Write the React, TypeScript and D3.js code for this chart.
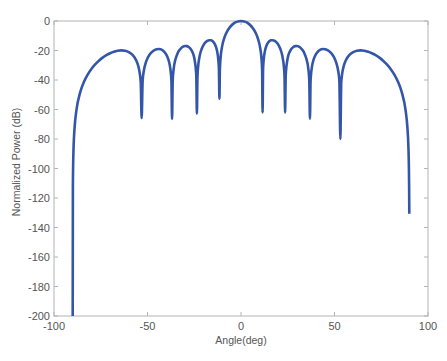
import React from "react";
import * as d3 from "d3";

// Angles (deg) and normalized power (dB)
const angleDeg: number[] = [
  -90, -89.9, -89.8, -89.5, -89, -88, -86, -84, -82, -80, -78, -76, -74, -72, -70, -68, -66, -64, -62, -60, -58, -56, -55, -54, -53.6, -53.13, -52.6, -52, -51, -50, -49, -48, -47, -46, -45, -44, -43, -42, -41, -40, -39, -38, -37.5, -37.2, -36.87, -36.5, -36, -35, -34, -33, -32, -31, -30, -29, -28, -27, -26, -25, -24, -23.9, -23.58, -23.3, -23, -22, -21, -20, -19, -18, -17, -16, -15, -14, -13, -12, -11.8, -11.54, -11.3, -11, -10, -9, -8, -7, -6, -5, -4, -3, -2, -1,
  0,
  1, 2, 3, 4, 5, 6, 7, 8, 9, 10, 11, 11.3, 11.54, 11.8, 12, 13, 14, 15, 16, 17, 18, 19, 20, 21, 22, 23, 23.3, 23.58, 23.9, 24, 25, 26, 27, 28, 29, 30, 31, 32, 33, 34, 35, 36, 36.5, 36.87, 37.2, 37.5, 38, 39, 40, 41, 42, 43, 44, 45, 46, 47, 48, 49, 50, 51, 52, 52.6, 53.13, 53.6, 54, 55, 56, 58, 60, 62, 64, 66, 68, 70, 72, 74, 76, 78, 80, 82, 84, 86, 88, 89, 89.5, 89.8, 89.9, 90,
];

const powerDb: number[] = [
  -200, -112.4, -100.4, -84.46, -72.42, -60.38, -48.36, -41.32, -36.35, -32.53, -29.46, -26.93, -24.84, -23.13, -21.84, -20.8, -20.12, -19.89, -20.17, -21.1, -23.03, -26.8, -30.21, -36.61, -41.87, -65.8, -40.63, -34.06, -28.54, -25.28, -23.04, -21.44, -20.3, -19.53, -19.1, -18.99, -19.22, -19.83, -20.92, -22.67, -25.48, -30.58, -35.5, -41.04, -66.4, -39.92, -32.43, -25.77, -22.19, -19.89, -18.38, -17.44, -16.99, -17.03, -17.59, -18.81, -20.99, -24.97, -35.04, -37.35, -62.8, -38.41, -31.98, -23.1, -18.86, -16.23, -14.51, -13.47, -13.0, -13.11, -13.9, -15.66, -19.14, -28.26, -33.02, -52.7, -33.55, -26.24, -16.52, -11.71, -8.48, -6.11, -4.29, -2.88, -1.8, -0.99, -0.43, -0.11,
  0,
  -0.11, -0.43, -0.99, -1.8, -2.88, -4.29, -6.11, -8.48, -11.71, -16.52, -26.24, -33.55, -62.0, -33.02, -28.26, -19.14, -15.66, -13.9, -13.11, -13.0, -13.47, -14.51, -16.23, -18.86, -23.1, -31.98, -38.41, -62.0, -37.35, -35.04, -24.97, -20.99, -18.81, -17.59, -17.03, -16.99, -17.44, -18.38, -19.89, -22.19, -25.77, -32.43, -39.92, -66.2, -41.04, -35.5, -30.58, -25.48, -22.67, -20.92, -19.83, -19.22, -18.99, -19.1, -19.53, -20.3, -21.44, -23.04, -25.28, -28.54, -34.06, -40.63, -80.0, -41.87, -36.61, -30.21, -26.8, -23.03, -21.1, -20.17, -19.89, -20.12, -20.8, -21.84, -23.13, -24.84, -26.93, -29.46, -32.53, -36.35, -41.32, -48.36, -60.38, -72.42, -84.46, -100.4, -112.4, -130.6,
];

const xTicks: number[] = [-100, -50, 0, 50, 100];
const yTicks: number[] = [0, -20, -40, -60, -80, -100, -120, -140, -160, -180, -200];

const W = 447;
const H = 361;
const left = 54;
const right = 428;
const top = 21;
const bottom = 316;

export default function App() {
  const x = d3.scaleLinear().domain([-100, 100]).range([left, right]);
  const y = d3.scaleLinear().domain([-200, 0]).range([bottom, top]);
  const pts: [number, number][] = angleDeg.map((a, i) => [a, powerDb[i]]);
  const line = d3
    .line<[number, number]>()
    .x((d) => x(d[0]))
    .y((d) => y(d[1]))
    .curve(d3.curveMonotoneX);
  const axisColor = "#b4b4b4";
  const textColor = "#555";
  const font = "Liberation Sans, Arial, sans-serif";
  const tl = 4;
  return (
    <svg
      width={W}
      height={H}
      style={{ position: "absolute", left: 0, top: 0, background: "#fff" }}
    >
      <rect x={0} y={0} width={W} height={H} fill="#fff" />
      <defs>
        <clipPath id="plotclip">
          <rect x={left} y={top - 2} width={right - left} height={bottom - top + 2} />
        </clipPath>
      </defs>
      <rect
        x={left}
        y={top}
        width={right - left}
        height={bottom - top}
        fill="none"
        stroke={axisColor}
        strokeWidth={1}
      />
      {xTicks.map((t) => (
        <g key={"x" + t}>
          <line x1={x(t)} x2={x(t)} y1={bottom} y2={bottom - tl} stroke={axisColor} />
          <line x1={x(t)} x2={x(t)} y1={top} y2={top + tl} stroke={axisColor} />
          <text
            x={x(t)}
            y={bottom + 14}
            textAnchor="middle"
            fontSize={11}
            fontFamily={font}
            fill={textColor}
          >
            {t}
          </text>
        </g>
      ))}
      {yTicks.map((t) => (
        <g key={"y" + t}>
          <line x1={left} x2={left + tl} y1={y(t)} y2={y(t)} stroke={axisColor} />
          <line x1={right} x2={right - tl} y1={y(t)} y2={y(t)} stroke={axisColor} />
          <text
            x={left - 4}
            y={y(t) + 4}
            textAnchor="end"
            fontSize={11}
            fontFamily={font}
            fill={textColor}
          >
            {t}
          </text>
        </g>
      ))}
      <path
        d={line(pts) || ""}
        fill="none"
        stroke="#3356a8"
        strokeWidth={2.6}
        strokeLinejoin="round"
        clipPath="url(#plotclip)"
      />
      <text
        x={(left + right) / 2}
        y={344}
        textAnchor="middle"
        fontSize={10.5}
        fontFamily={font}
        fill={textColor}
      >
        Angle(deg)
      </text>
      <text
        transform={`translate(20, ${162}) rotate(-90)`}
        textAnchor="middle"
        fontSize={10.5}
        fontFamily={font}
        fill={textColor}
      >
        Normalized Power (dB)
      </text>
    </svg>
  );
}
